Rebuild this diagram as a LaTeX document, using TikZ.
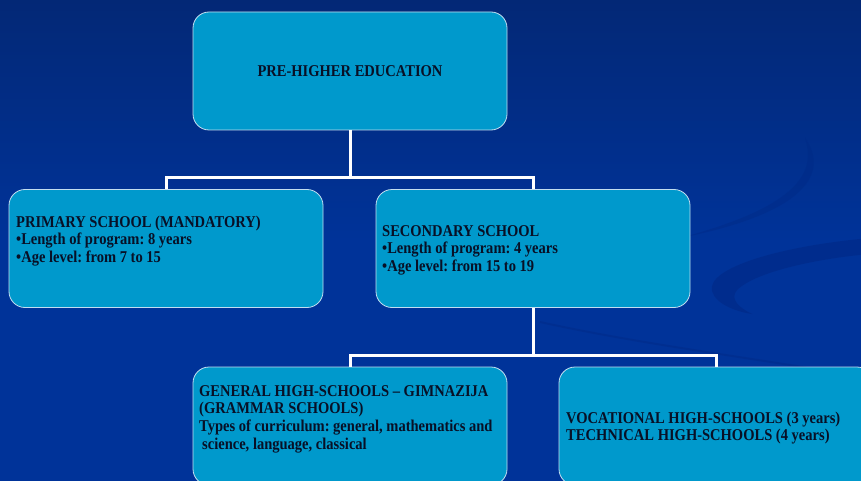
\documentclass[tikz,border=0pt]{standalone}
\usepackage{fontspec}
\setmainfont{Liberation Serif}[FakeStretch=0.88]
\frenchspacing
\definecolor{slidetop}{RGB}{3,40,118}
\definecolor{slideblue}{RGB}{0,51,153}
\definecolor{swoosh}{RGB}{0,40,132}
\definecolor{boxfill}{RGB}{0,153,204}
\definecolor{boxline}{RGB}{195,222,240}
\definecolor{boxtext}{RGB}{8,16,38}
\begin{document}
\begin{tikzpicture}[x=1pt,y=-1pt,
  box/.style={draw=boxline, line width=0.8pt, fill=boxfill, rounded corners=16pt,
    minimum width=314pt, minimum height=118pt, inner sep=0pt,
    text=boxtext, font=\bfseries\fontsize{16.5}{17.6}\selectfont},
  txt/.style={text=boxtext, font=\bfseries\fontsize{16.5}{17.6}\selectfont,
    align=left, inner sep=0pt, anchor=north west},
  link/.style={draw=white, line width=3pt}]
\useasboundingbox (0,0) rectangle (861,481);
\begin{scope}
\clip (0,0) rectangle (861,481);
\shade[top color=slidetop, bottom color=slideblue, middle color=slideblue] (0,0) rectangle (861,481);
% background swooshes
\fill[swoosh, opacity=0.4] (805,138) .. controls (828,170) and (812,212) .. (680,238)
  .. controls (800,206) and (816,172) .. (805,138) -- cycle;
\fill[swoosh, opacity=0.55] (870,238) .. controls (780,246) and (706,268) .. (712,291)
  .. controls (716,305) and (738,312) .. (752,314) .. controls (734,305) and (728,295) .. (742,286)
  .. controls (764,270) and (822,258) .. (870,254) -- cycle;
\draw[swoosh, line width=2pt, opacity=0.4] (540,322) .. controls (640,344) and (740,356) .. (870,378);

\node[box] (pre) at (350,71) {PRE-HIGHER EDUCATION};
\node[box] (prim) at (166,248.5) {};
\node[box] (sec) at (533,248.5) {};
\node[box] (gen) at (350,426) {};
\node[box] (voc) at (716,426) {};

\coordinate (busA) at (350,178);
\coordinate (busB) at (533,355);
\draw[link] (pre.south) -- (busA);
\draw[link] (prim.north) |- (busA) -| (sec.north);
\draw[link] (sec.south) -- (busB);
\draw[link] (gen.north) |- (busB) -| (voc.north);

\node[txt] (primtext) at (16,215.6) {PRIMARY SCHOOL (MANDATORY)\\
  •Length of program: 8 years\\
  •Age level: from 7 to 15};
\node[txt] (sectext) at (382,225.2) {SECONDARY SCHOOL\\
  •Length of program: 4 years\\
  •Age level: from 15 to 19};
\node[txt] (gentext) at (199,385.2) {GENERAL HIGH-SCHOOLS – GIMNAZIJA\\
  (GRAMMAR SCHOOLS)\\
  Types of curriculum: general, mathematics and\\
  \hspace*{3pt}science, language, classical};
\node[txt] (voctext) at (566,411.6) {VOCATIONAL HIGH-SCHOOLS (3 years)\\
  TECHNICAL HIGH-SCHOOLS (4 years)};
\end{scope}
\end{tikzpicture}
\end{document}
